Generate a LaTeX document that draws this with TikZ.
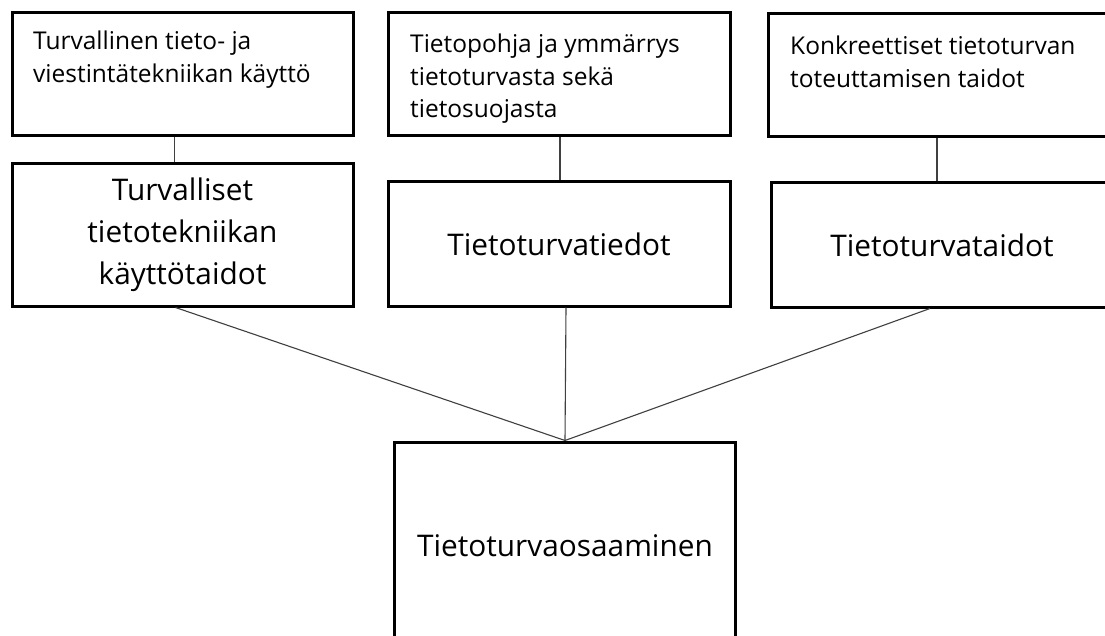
\documentclass[tikz,border=0pt]{standalone}
\usepackage{fontspec}
\setmainfont{Open Sans}
\usetikzlibrary{calc}
\tikzset{
  box/.style={draw=black, line width=3pt, rectangle, inner sep=0pt, minimum width=341pt},
  toptext/.style={anchor=base west, inner sep=0pt, font=\fontsize{24.5}{32.5}\selectfont},
  midtext/.style={align=center, inner sep=0pt, font=\fontsize{29.8}{42}\selectfont},
  conn/.style={draw=black!75, line width=1.1pt}
}
\newcommand{\toplines}[1]{\begin{tabular}[t]{@{}l@{}}#1\end{tabular}}
\begin{document}
\begin{tikzpicture}[x=1pt,y=-1pt]
\useasboundingbox (0,0) rectangle (1105,636);
\clip (0,0) rectangle (1105,636);
\fill[white] (0,0) rectangle (1105,636);
% top boxes
\node[box, minimum height=123pt] (A) at (182.5,74.5) {};
\node[box, minimum width=342pt, minimum height=123pt] (B) at (559,74.5) {};
\node[box, minimum width=342pt, minimum height=123pt] (C) at (939,75.5) {};
% middle boxes
\node[box, minimum height=142pt] (D) at (182.5,235) {};
\node[box, minimum width=342pt, minimum height=124pt] (E) at (559,244) {};
\node[box, minimum width=342pt, minimum height=124pt] (F) at (942,245) {};
% bottom box
\node[box, minimum height=208pt] (G) at (565,546) {};
% texts
\node[toptext] (tA) at (33,50) {\toplines{Turvallinen tieto- ja\\viestintätekniikan käyttö}};
\node[toptext] (tB) at (410,53) {\toplines{Tietopohja ja ymmärrys\\tietoturvasta sekä\\tietosuojasta}};
\node[toptext] (tC) at (790,55) {\toplines{Konkreettiset tietoturvan\\toteuttamisen taidot}};
\node[midtext] (tD) at (D.center) {Turvalliset\\tietotekniikan\\käyttötaidot};
\node[midtext] (tE) at (E.center) {Tietoturvatiedot};
\node[midtext] (tF) at (F.center) {Tietoturvataidot};
\node[midtext] (tG) at (G.center) {Tietoturvaosaaminen};
% connectors
\draw[conn] ($(A.south)+(-8,0)$) -- ($(D.north)+(-8,0)$);
\draw[conn] ($(B.south)+(1,0)$) -- ($(E.north)+(1,0)$);
\draw[conn] ($(C.south)+(-2,0)$) -- ($(F.north)+(-5,0)$);
\coordinate (m) at (G.north);
\draw[conn] ($(D.south)+(-7,0)$) -- (m);
\draw[conn] ($(E.south)+(7,0)$) -- (m);
\draw[conn] ($(F.south)+(-12,0)$) -- (m);
\end{tikzpicture}
\end{document}
